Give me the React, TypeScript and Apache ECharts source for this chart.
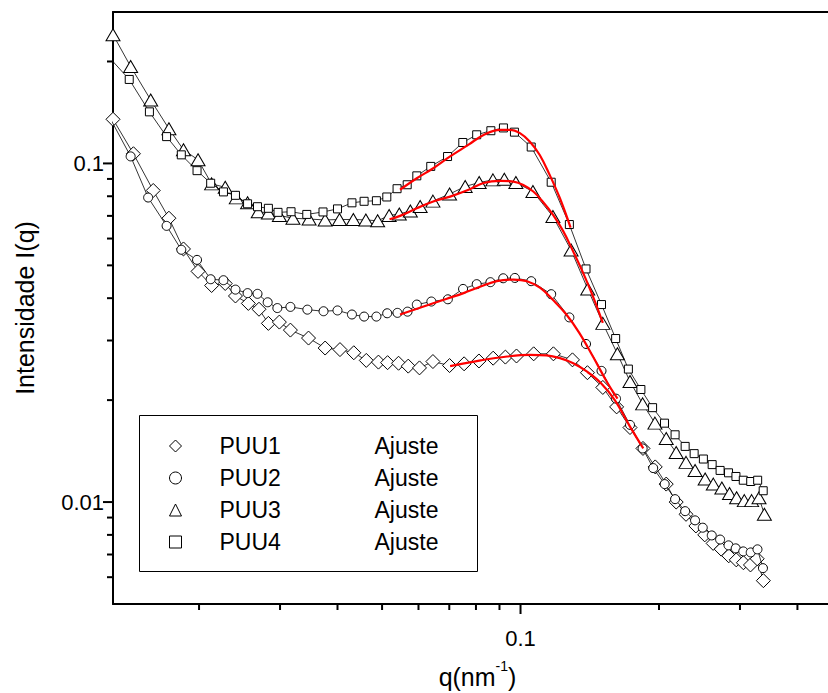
import React, { useEffect, useRef } from 'react';
import * as echarts from 'echarts';

// Axis ranges (log axes)
const X_MIN = 0.013;
const X_MAX = 0.5;
const Y_MIN = 0.005;
const Y_MAX = 0.28;

const xMajorTicks = [0.1];
const xMinorTicks = [0.02, 0.03, 0.04, 0.05, 0.06, 0.07, 0.08, 0.09, 0.2, 0.3, 0.4];
const yMajorTicks = [0.01, 0.1];
const yMinorTicks = [0.006, 0.007, 0.008, 0.009, 0.02, 0.03, 0.04, 0.05, 0.06, 0.07, 0.08, 0.09, 0.2];

const seriesNames = ['PUU1', 'PUU2', 'PUU3', 'PUU4'];
const fitName = 'Ajuste';

// PUU1 (diamonds): [q, I]
const puu1: [number, number][] = [
  [0.013, 0.135], [0.0144, 0.1068], [0.0159, 0.0832], [0.0172, 0.0689], [0.0185, 0.0559], [0.0199, 0.048],
  [0.0213, 0.0436], [0.0228, 0.0442], [0.024, 0.0406], [0.0256, 0.0386], [0.027, 0.0371], [0.0283, 0.0337],
  [0.0299, 0.034], [0.0316, 0.0322], [0.0346, 0.0305], [0.0376, 0.0285], [0.0405, 0.0282], [0.0434, 0.0276],
  [0.0462, 0.0262], [0.0491, 0.0259], [0.0514, 0.0258], [0.0543, 0.0257], [0.057, 0.0252], [0.0603, 0.0249],
  [0.0645, 0.026], [0.0701, 0.0253], [0.0754, 0.0256], [0.0812, 0.0261], [0.0872, 0.0266], [0.0927, 0.0268],
  [0.098, 0.027], [0.1068, 0.0274], [0.1179, 0.0274], [0.1297, 0.0263], [0.1398, 0.0241], [0.151, 0.0218],
  [0.1618, 0.0191], [0.173, 0.0166], [0.1846, 0.0144], [0.1963, 0.0127], [0.2074, 0.0113], [0.218, 0.01],
  [0.229, 0.0092], [0.2406, 0.0085], [0.2515, 0.008], [0.2623, 0.00755], [0.2731, 0.00726], [0.2836, 0.00694],
  [0.2945, 0.00675], [0.3052, 0.00662], [0.3162, 0.00652], [0.327, 0.0068], [0.3373, 0.00586],
];

// PUU2 (circles)
const puu2: [number, number][] = [
  [0.0127, 0.139], [0.0142, 0.1049], [0.0155, 0.0793], [0.017, 0.0654], [0.0183, 0.0556], [0.0198, 0.0519],
  [0.0212, 0.0455], [0.0226, 0.0452], [0.024, 0.0424], [0.0255, 0.0414], [0.0268, 0.0412], [0.0282, 0.0389],
  [0.0296, 0.0374], [0.0316, 0.0377], [0.0344, 0.037], [0.0373, 0.0366], [0.04, 0.0368], [0.043, 0.0358],
  [0.0457, 0.0353], [0.0486, 0.0353], [0.0513, 0.0361], [0.054, 0.0362], [0.0568, 0.0365], [0.0595, 0.0383],
  [0.064, 0.0391], [0.0695, 0.0397], [0.075, 0.0426], [0.0803, 0.044], [0.086, 0.0446], [0.0917, 0.0458],
  [0.0972, 0.0459], [0.1055, 0.0449], [0.1166, 0.0411], [0.1277, 0.0351], [0.1388, 0.0293], [0.15, 0.0244],
  [0.1613, 0.0202], [0.173, 0.0169], [0.1843, 0.0144], [0.1943, 0.0126], [0.2058, 0.0113], [0.2168, 0.0102],
  [0.228, 0.0094], [0.2396, 0.00883], [0.249, 0.0084], [0.2605, 0.00797], [0.2716, 0.00775], [0.2833, 0.00745],
  [0.2937, 0.0073], [0.305, 0.00715], [0.3166, 0.0071], [0.3275, 0.00725], [0.3366, 0.00638],
];

// PUU3 (triangles)
const puu3: [number, number][] = [
  [0.013, 0.24], [0.0142, 0.1933], [0.0157, 0.154], [0.0172, 0.1266], [0.0185, 0.1097], [0.0199, 0.1025],
  [0.0213, 0.087], [0.0228, 0.085], [0.0241, 0.0791], [0.0255, 0.0765], [0.0269, 0.072], [0.0283, 0.0714],
  [0.0299, 0.0702], [0.032, 0.0689], [0.0347, 0.0685], [0.0376, 0.0681], [0.0404, 0.0683], [0.0433, 0.0683],
  [0.0461, 0.0681], [0.0489, 0.0677], [0.0518, 0.0702], [0.0545, 0.0709], [0.0576, 0.0724], [0.0605, 0.0746],
  [0.0645, 0.0774], [0.0701, 0.0812], [0.0758, 0.0855], [0.0813, 0.0878], [0.0871, 0.0894], [0.0922, 0.0898],
  [0.0977, 0.0878], [0.1064, 0.0826], [0.1176, 0.0697], [0.1288, 0.0555], [0.14, 0.0426], [0.151, 0.0337],
  [0.1624, 0.0274], [0.173, 0.0227], [0.1843, 0.0195], [0.196, 0.0171], [0.2074, 0.0154], [0.218, 0.014],
  [0.229, 0.0131], [0.2396, 0.0124], [0.252, 0.0117], [0.2625, 0.0113], [0.274, 0.011], [0.2847, 0.0106],
  [0.295, 0.0103], [0.3066, 0.0101], [0.318, 0.0101], [0.33, 0.0103], [0.339, 0.0092],
];

// PUU4 (squares)
const puu4: [number, number][] = [
  [0.0127, 0.207], [0.0141, 0.177], [0.0156, 0.142], [0.017, 0.12], [0.0183, 0.106], [0.0198, 0.0952],
  [0.0212, 0.0874], [0.0226, 0.0824], [0.024, 0.0805], [0.0255, 0.076], [0.0268, 0.0745], [0.0283, 0.0737],
  [0.0297, 0.0717], [0.0317, 0.072], [0.0343, 0.0707], [0.0372, 0.0719], [0.04, 0.0734], [0.043, 0.0765],
  [0.0457, 0.0773], [0.0486, 0.0776], [0.0512, 0.0796], [0.0539, 0.0842], [0.0567, 0.0865], [0.0595, 0.0919],
  [0.0638, 0.098], [0.0694, 0.1048], [0.0749, 0.1153], [0.0803, 0.1215], [0.0862, 0.1249], [0.0918, 0.1273],
  [0.097, 0.1237], [0.1055, 0.1118], [0.1166, 0.088], [0.1277, 0.066], [0.1388, 0.0488], [0.15, 0.0383],
  [0.161, 0.0304], [0.1716, 0.0247], [0.1827, 0.0215], [0.1937, 0.019], [0.2056, 0.0171], [0.2168, 0.0158],
  [0.228, 0.0146], [0.2385, 0.0139], [0.2498, 0.0134], [0.261, 0.0129], [0.2716, 0.0124], [0.2833, 0.0122],
  [0.294, 0.0119], [0.305, 0.0116], [0.3166, 0.0115], [0.3278, 0.0116], [0.337, 0.0108],
];

// Fits (Ajuste)
const fit1: [number, number][] = [
  [0.0703, 0.0252], [0.0819, 0.0262], [0.0935, 0.0269], [0.1047, 0.0272], [0.1139, 0.0271], [0.1218, 0.0266],
  [0.1302, 0.0257], [0.1393, 0.0243], [0.1493, 0.0225], [0.1603, 0.02], [0.173, 0.0167], [0.1849, 0.0144],
];
const fit2: [number, number][] = [
  [0.0547, 0.0358], [0.0634, 0.0383], [0.0689, 0.0398], [0.0752, 0.0414], [0.0819, 0.0433], [0.0888, 0.0449],
  [0.0966, 0.0454], [0.1033, 0.0449], [0.1104, 0.0429], [0.1177, 0.0395], [0.1258, 0.0358], [0.1342, 0.0316],
  [0.1437, 0.0269], [0.1545, 0.0225], [0.1625, 0.0202],
];
const fit3: [number, number][] = [
  [0.0519, 0.0684], [0.0547, 0.07], [0.0595, 0.0737], [0.0646, 0.0772], [0.0703, 0.0798], [0.0771, 0.0836],
  [0.0831, 0.0875], [0.0903, 0.0888], [0.0965, 0.0884], [0.1014, 0.0864], [0.1066, 0.0826], [0.1117, 0.0772],
  [0.1177, 0.0705], [0.1239, 0.063], [0.1302, 0.0549], [0.1368, 0.0475], [0.1437, 0.0405], [0.151, 0.0338],
];
const fit4: [number, number][] = [
  [0.0547, 0.0836], [0.0595, 0.0904], [0.0646, 0.0968], [0.0703, 0.1049], [0.0771, 0.1136], [0.0831, 0.1214],
  [0.0903, 0.1257], [0.0948, 0.1257], [0.0997, 0.1229], [0.1047, 0.1161], [0.1101, 0.1059], [0.1157, 0.0925],
  [0.1218, 0.0789], [0.1285, 0.0646],
];

const FONT = '"Liberation Sans", Arial, Helvetica, sans-serif';

export default function App() {
  const ref = useRef<HTMLDivElement>(null);

  useEffect(() => {
    if (!ref.current) return;
    const chart = echarts.init(ref.current, null, { renderer: 'svg' });

    const dataSets = [puu1, puu2, puu3, puu4];
    const symbols = ['diamond', 'circle', 'triangle', 'rect'];
    const sizes: any[] = [[14, 14], 9, [14, 12], 8];
    const fits = [fit1, fit2, fit3, fit4];

    const labelFmt = (majors: number[]) => (v: number) => {
      const hit = majors.find((m) => Math.abs(m - v) / m < 1e-6);
      return hit !== undefined ? String(hit) : '';
    };

    const baseAxis = {
      type: 'log',
      logBase: 10,
      splitLine: { show: false },
      minorTick: { show: false },
      minorSplitLine: { show: false },
      axisTick: { show: false },
    };

    const option: any = {
      animation: false,
      backgroundColor: '#ffffff',
      grid: {
        left: 113,
        top: 12,
        width: 729,
        height: 592,
        containLabel: false,
        outerBoundsMode: 'none',
      },
      xAxis: [
        {
          ...baseAxis,
          min: X_MIN,
          max: X_MAX,
          position: 'bottom',
          axisLine: { show: true, lineStyle: { color: '#000', width: 2 } },
          axisLabel: {
            formatter: labelFmt(xMajorTicks),
            color: '#000',
            fontSize: 22,
            fontFamily: FONT,
            margin: 23,
          },
          name: '{a|q(nm}{b|-1}{a|)}',
          nameLocation: 'middle',
          nameGap: 55,
          nameTextStyle: {
            rich: {
              a: { fontSize: 25, fontFamily: FONT, color: '#000', lineHeight: 30, verticalAlign: 'bottom' },
              b: { fontSize: 14, fontFamily: FONT, color: '#000', lineHeight: 15, verticalAlign: 'top' },
            },
          },
        },
        {
          ...baseAxis,
          min: X_MIN,
          max: X_MAX,
          position: 'top',
          axisLine: { show: true, lineStyle: { color: '#000', width: 2 } },
          axisLabel: { show: false },
        },
      ],
      yAxis: [
        {
          ...baseAxis,
          min: Y_MIN,
          max: Y_MAX,
          position: 'left',
          axisLine: { show: true, lineStyle: { color: '#000', width: 2 } },
          axisLabel: {
            formatter: labelFmt(yMajorTicks),
            color: '#000',
            fontSize: 22,
            fontFamily: FONT,
            margin: 9,
          },
          name: 'Intensidade I(q)',
          nameLocation: 'middle',
          nameRotate: 90,
          nameGap: 76,
          nameTextStyle: { fontSize: 25, fontFamily: FONT, color: '#000' },
        },
      ],
      legend: {
        data: seriesNames.map((n, i) => ({ name: n, icon: symbols[i] })),
        orient: 'vertical',
        left: 169,
        top: 434,
        itemWidth: 12,
        itemHeight: 12,
        itemGap: 8,
        padding: 0,
        selectedMode: false,
        itemStyle: { color: '#fff', borderColor: '#000', borderWidth: 1 },
        formatter: (name: string) => `{n|${name}}{a|${fitName}}`,
        textStyle: {
          color: '#000',
          fontFamily: FONT,
          fontSize: 23,
          lineHeight: 24,
          padding: [0, 0, 0, 33],
          rich: {
            n: { width: 155, fontSize: 23, fontFamily: FONT, color: '#000', lineHeight: 24 },
            a: { fontSize: 23, fontFamily: FONT, color: '#000', lineHeight: 24 },
          },
        },
      },
      series: [
        ...dataSets.map((d, i) => ({
          name: seriesNames[i],
          type: 'line',
          data: d,
          symbol: symbols[i],
          symbolSize: sizes[i],
          showSymbol: true,
          showAllSymbol: true,
          clip: true,
          lineStyle: { color: '#000', width: 0.8 },
          itemStyle: { color: '#fff', borderColor: '#000', borderWidth: 1 },
          z: 2 + i * 0.1,
        })),
        ...fits.map((d, i) => ({
          name: fitName + ' ' + (i + 1),
          type: 'line',
          data: d,
          symbol: 'none',
          smooth: 0.4,
          clip: true,
          lineStyle: { color: '#ff0000', width: 2.2 },
          z: 5,
        })),
      ],
    };

    chart.setOption(option);

    const gx = (v: number) => chart.convertToPixel({ xAxisIndex: 0 }, v) as number;
    const gy = (v: number) => chart.convertToPixel({ yAxisIndex: 0 }, v) as number;
    const bottom = gy(Y_MIN);
    const left = gx(X_MIN);
    const tickLine = (x1: number, y1: number, x2: number, y2: number, w: number) => ({
      type: 'line',
      silent: true,
      shape: { x1, y1, x2, y2 },
      style: { stroke: '#000', lineWidth: w },
      z: 10,
    });
    const elements: any[] = [];
    xMajorTicks.forEach((v) => elements.push(tickLine(gx(v), bottom, gx(v), bottom + 10, 2)));
    xMinorTicks.forEach((v) => elements.push(tickLine(gx(v), bottom, gx(v), bottom + 6, 2)));
    yMajorTicks.forEach((v) => elements.push(tickLine(left, gy(v), left - 10, gy(v), 2)));
    yMinorTicks.forEach((v) => elements.push(tickLine(left, gy(v), left - 6, gy(v), 2)));
    elements.push({
      type: 'rect',
      silent: true,
      shape: { x: 139.5, y: 415.5, width: 338, height: 156 },
      style: { fill: 'none', stroke: '#000', lineWidth: 1 },
      z: 1,
    });
    chart.setOption({ graphic: { elements } });

    return () => chart.dispose();
  }, []);

  return (
    <div
      ref={ref}
      style={{ position: 'absolute', left: 0, top: 0, width: 828, height: 693, background: '#fff' }}
    />
  );
}
